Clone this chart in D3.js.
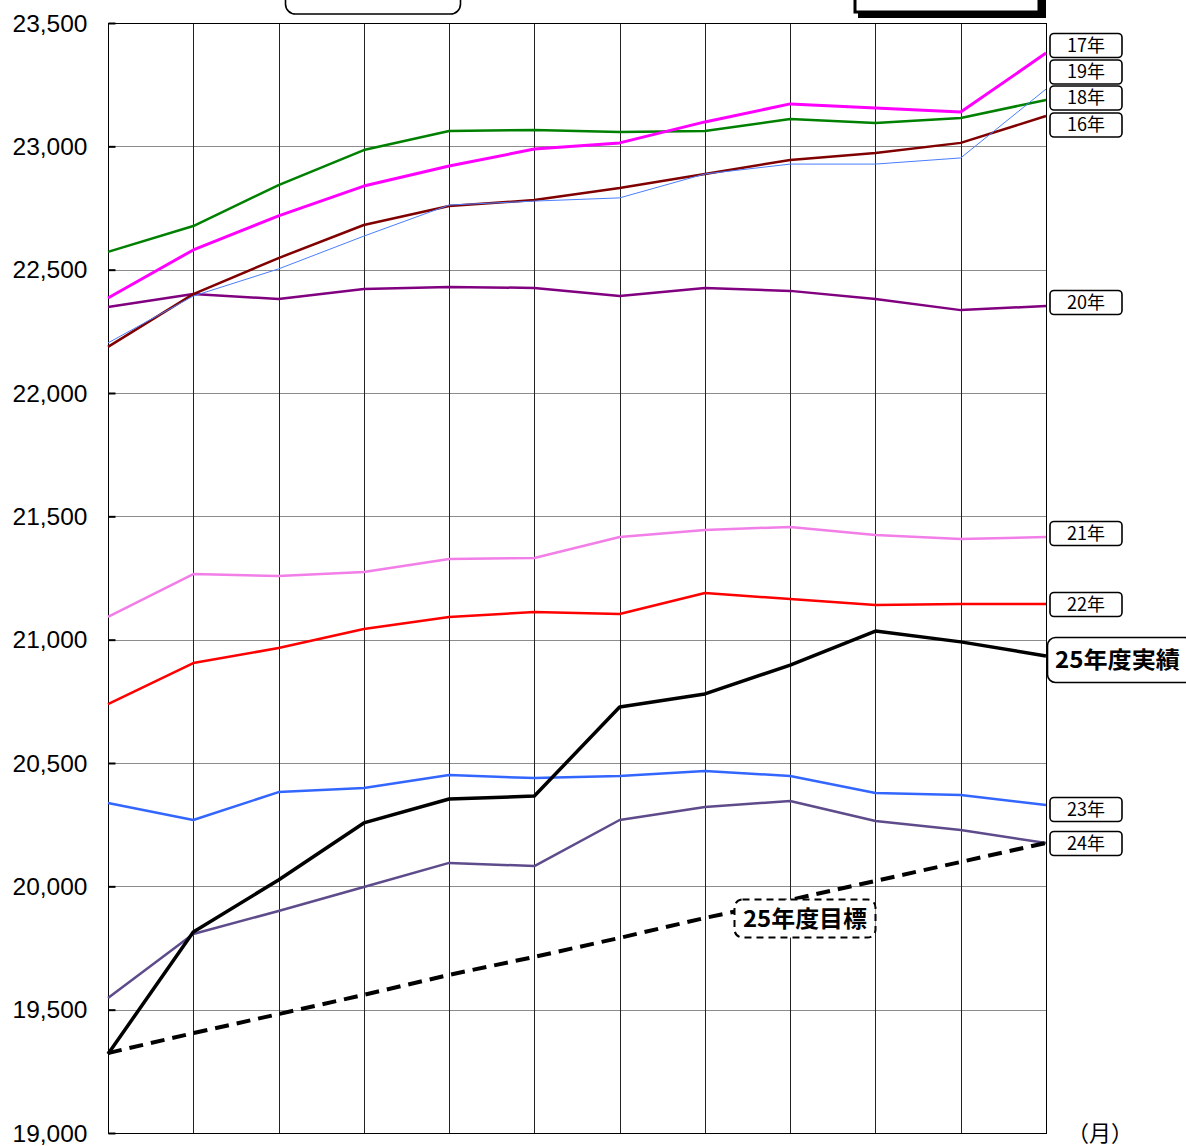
<!DOCTYPE html>
<html><head><meta charset="utf-8">
<script src="https://cdn.jsdelivr.net/npm/d3@7"></script>
<style>
html,body{margin:0;padding:0;background:#fff;overflow:hidden}
svg{display:block}
</style></head>
<body>
<svg id="c" width="1186" height="1146"></svg>
<script>
const months = ["4","5","6","7","8","9","10","11","12","1","2","3"];
const yTicks = [19000,19500,20000,20500,21000,21500,22000,22500,23000,23500];

const s16 = [22187,22401,22547,22681,22758,22782,22831,22888,22945,22973,23014,23123];
const s17 = [22385,22580,22718,22839,22920,22989,23014,23099,23172,23155,23139,23378];
const s18 = [22572,22677,22843,22985,23062,23066,23058,23062,23111,23095,23115,23188];
const s19 = [22203,22393,22503,22636,22762,22778,22791,22888,22928,22928,22953,23232];
const s20 = [22349,22401,22381,22422,22430,22426,22393,22426,22414,22381,22336,22353];
const s21 = [21092,21266,21258,21274,21327,21331,21416,21445,21457,21424,21408,21416];
const s22 = [20739,20905,20966,21043,21092,21112,21104,21189,21165,21141,21145,21145];
const s23 = [20338,20269,20382,20399,20451,20439,20447,20468,20447,20378,20370,20330];
const s24 = [19547,19807,19900,19997,20095,20082,20269,20322,20346,20265,20228,20176];
const actual25 = [19320,19815,20026,20257,20354,20366,20727,20780,20897,21035,20991,20934];
const target25 = [19324,19405,19482,19560,19641,19714,19791,19872,19945,20022,20099,20176];

const series = [
  {name:"24年", data:s24, color:"#5e4b8b", w:2.5},
  {name:"23年", data:s23, color:"#3366ff", w:2.5},
  {name:"22年", data:s22, color:"#ff0000", w:2.5},
  {name:"21年", data:s21, color:"#f27ee8", w:2.5},
  {name:"20年", data:s20, color:"#800080", w:2.5},
  {name:"16年", data:s16, color:"#800000", w:2.5},
  {name:"18年", data:s18, color:"#008000", w:2.5},
  {name:"19年", data:s19, color:"#4a7dff", w:1},
  {name:"17年", data:s17, color:"#ff00ff", w:3},
];

const svg = d3.select("#c");
const L=108, R=1046, T=23, B=1133;
const x = d3.scalePoint().domain(months).range([L,R]);
const y = d3.scaleLinear().domain([19000,23500]).range([B,T]);

// horizontal grid
svg.append("g").selectAll("line").data(yTicks).join("line")
  .attr("x1",L).attr("x2",R).attr("y1",d=>Math.round(y(d))+0.5).attr("y2",d=>Math.round(y(d))+0.5)
  .attr("stroke","#8c8c8c").attr("stroke-width",1);
// vertical grid
svg.append("g").selectAll("line").data(months).join("line")
  .attr("x1",d=>Math.round(x(d))+0.5).attr("x2",d=>Math.round(x(d))+0.5).attr("y1",T).attr("y2",B)
  .attr("stroke","#222").attr("stroke-width",1);
// frame
svg.append("rect").attr("x",L+0.5).attr("y",T+0.5).attr("width",R-L).attr("height",B-T)
  .attr("fill","none").attr("stroke","#000").attr("stroke-width",1);

// y axis
const yAxis = d3.axisLeft(y).tickValues(yTicks).tickFormat(d3.format(",")).tickSize(-7).tickPadding(22);
const ga = svg.append("g").attr("transform",`translate(${L+0.5},0)`).call(yAxis);
ga.select(".domain").remove();
ga.selectAll(".tick line").attr("stroke","#000").attr("stroke-width",2);
ga.selectAll(".tick text").attr("font-family","'Liberation Sans Narrow','Arial Narrow','Liberation Sans',sans-serif")
  .attr("font-size",24).attr("fill","#000").attr("textLength",75).attr("lengthAdjust","spacingAndGlyphs")
  .attr("x",-21).attr("dy","0.34em");

const line = d3.line().x((d,i)=>x(months[i])).y(d=>y(d));

series.forEach(s=>{
  svg.append("path").datum(s.data).attr("d",line).attr("fill","none")
    .attr("stroke",s.color).attr("stroke-width",s.w).attr("stroke-linejoin","round");
});
// target dashed
svg.append("path").datum(target25).attr("d",line).attr("fill","none")
  .attr("stroke","#000").attr("stroke-width",4).attr("stroke-dasharray","14,8");
// actual
svg.append("path").datum(actual25).attr("d",line).attr("fill","none")
  .attr("stroke","#000").attr("stroke-width",3.5).attr("stroke-linejoin","round");

// labels
const lab = [
  {t:"17年", y:45.5},{t:"19年", y:72},{t:"18年", y:98},{t:"16年", y:125},
  {t:"20年", y:302.5},{t:"21年", y:533.5},{t:"22年", y:604.5},{t:"23年", y:809.5},{t:"24年", y:843.5}
];
const lg = svg.append("g");
lab.forEach(l=>{
  lg.append("rect").attr("x",1050).attr("y",l.y-12).attr("width",72).attr("height",24)
    .attr("rx",4).attr("fill","#fff").attr("stroke","#000").attr("stroke-width",1.6);
  lg.append("text").attr("x",1086).attr("y",l.y).attr("dy","0.36em").attr("text-anchor","middle")
    .attr("font-family","'Noto Sans CJK JP',sans-serif").attr("font-size",18).attr("fill","#000").text(l.t);
});
// 25年度実績
svg.append("rect").attr("x",1047.5).attr("y",637.5).attr("width",145).attr("height",45)
  .attr("rx",8).attr("fill","#fff").attr("stroke","#000").attr("stroke-width",1.6);
svg.append("text").attr("x",1055).attr("y",660).attr("dy","0.36em")
  .attr("font-family","'Noto Sans CJK JP',sans-serif").attr("font-weight","bold").attr("font-size",23)
  .attr("textLength",125).attr("lengthAdjust","spacingAndGlyphs").attr("fill","#000").text("25年度実績");
// 25年度目標
svg.append("rect").attr("x",734.5).attr("y",899.5).attr("width",141).attr("height",38)
  .attr("rx",8).attr("fill","#fff").attr("stroke","#000").attr("stroke-width",2).attr("stroke-dasharray","7,5");
svg.append("text").attr("x",805).attr("y",918.5).attr("dy","0.36em").attr("text-anchor","middle")
  .attr("font-family","'Noto Sans CJK JP',sans-serif").attr("font-weight","bold").attr("font-size",23)
  .attr("textLength",124).attr("lengthAdjust","spacingAndGlyphs").attr("fill","#000").text("25年度目標");

// top cut-off boxes
svg.append("rect").attr("x",285.5).attr("y",-30).attr("width",175).attr("height",44)
  .attr("rx",10).attr("fill","#fff").attr("stroke","#000").attr("stroke-width",1.6);
svg.append("rect").attr("x",858).attr("y",-30).attr("width",188).attr("height",48).attr("fill","#000");
svg.append("rect").attr("x",855).attr("y",-30).attr("width",184).attr("height",42)
  .attr("fill","#fff").attr("stroke","#000").attr("stroke-width",3);

// (月)
svg.append("text").attr("x",1100).attr("y",1133).attr("dy","0.35em").attr("text-anchor","middle")
  .attr("font-family","'Noto Sans CJK JP',sans-serif").attr("font-size",22).attr("fill","#000").text("（月）");
</script>
</body></html>
